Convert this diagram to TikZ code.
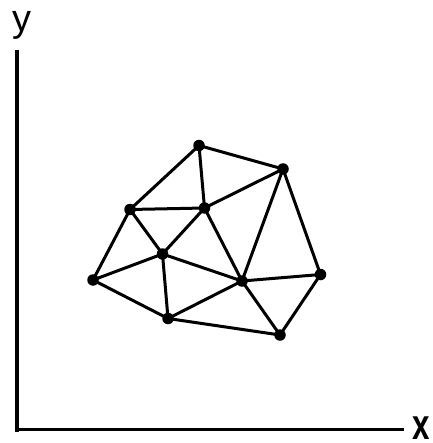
\documentclass[tikz,border=0pt]{standalone}
\usepackage{fontspec}
\setmainfont{Liberation Sans}
\begin{document}
\begin{tikzpicture}[x=1pt,y=-1pt,
  vtx/.style={circle,fill=black,inner sep=0pt,minimum size=11.5pt},
  edge/.style={line width=3pt,line cap=round},
  axis/.style={line width=4.5pt},
  lbl/.style={inner sep=0pt}]
\useasboundingbox (0,0) rectangle (432,443);
% axes
\coordinate (ytop) at (17,50);
\coordinate (xend) at (404,429.5);
\draw[axis] (ytop) -- (17,431.5);
\draw[line width=3.5pt] (15,429.5) -- (xend);
\node[lbl,anchor=base,font=\fontsize{38}{38}\selectfont] (ylab) at (22,31.5) {y};
\node[lbl,anchor=base,font=\bfseries\fontsize{43}{43}\selectfont,xscale=0.73] (xlab) at (421.5,439.5) {x};
% vertices
\node[vtx] (A) at (199,145.5) {};
\node[vtx] (B) at (283,169) {};
\node[vtx] (C) at (130,209.5) {};
\node[vtx] (D) at (204.5,208) {};
\node[vtx] (E) at (162.5,254) {};
\node[vtx] (F) at (93,280) {};
\node[vtx] (G) at (242,281) {};
\node[vtx] (H) at (320.5,274.5) {};
\node[vtx] (I) at (168,318.5) {};
\node[vtx] (J) at (280,335) {};
% edges
\foreach \a/\b in {A/B,A/C,A/D,B/D,B/G,B/H,C/D,C/E,C/F,D/E,D/G,E/F,E/G,E/I,F/I,I/G,I/J,G/J,G/H,H/J}
  \draw[edge] (\a.center) -- (\b.center);
\end{tikzpicture}
\end{document}
